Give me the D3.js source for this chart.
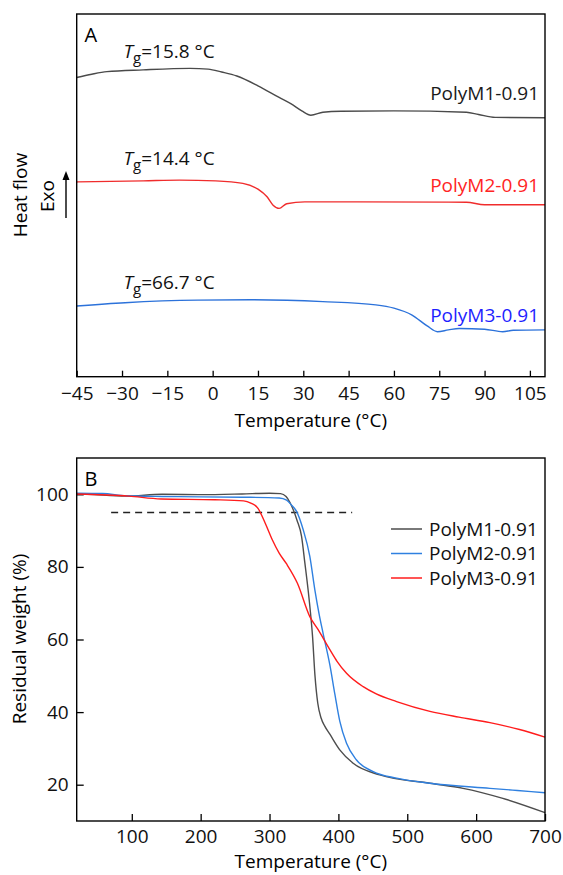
<!DOCTYPE html>
<html>
<head>
<meta charset="utf-8">
<script src="https://cdn.jsdelivr.net/npm/d3@7"></script>
<style>
  body { margin: 0; background: #fff; }
  svg { display: block; font-family: "Open Sans", "Noto Sans", sans-serif; }
  .frame { fill: none; stroke: #000; stroke-width: 1.4; }
  .axis path { display: none; }
  .axis line { stroke: #000; stroke-width: 1.3; }
  .axis text { font-size: 19px; fill: #111; font-family: "Open Sans", sans-serif; }
  .line { fill: none; stroke-width: 1.4; }
</style>
</head>
<body>
<svg width="563" height="875"></svg>
<script>
// ---- panel A : DSC (heat flow in arbitrary units, offset curves) ----
const dscTicks = [-45, -30, -15, 0, 15, 30, 45, 60, 75, 90, 105];

const dscM1 = [[-45, 82.5], [-40, 83.4], [-35, 84.1], [-23, 84.6], [-7.5, 85.0], [-1.5, 84.8], [3, 84.0],
  [8, 82.9], [15, 80.2], [22, 77.0], [26, 75.2], [29.5, 73.3], [32.5, 72.1], [36.5, 72.9], [42.5, 73.2],
  [60, 73.3], [84, 72.9], [88, 72.3], [93.5, 71.5], [110, 71.4]];

const dscM2 = [[-45, 53.7], [-23, 54.0], [-11, 54.2], [1, 54.0], [10, 53.3], [15, 51.7], [18, 49.6],
  [20, 47.3], [22, 46.4], [24.5, 47.7], [30.5, 48.2], [48, 48.2], [84, 48.1], [90, 47.4], [110, 47.4]];

const dscM3 = [[-45, 19.5], [-29, 20.4], [-5, 21.1], [12.7, 21.2], [36.5, 20.7], [54, 19.8], [60, 18.9],
  [66, 17.0], [71, 14.0], [74.4, 12.4], [78, 12.9], [81.6, 13.3], [90, 13.1], [96, 12.4], [99.5, 12.8], [110, 12.9]];

const dscLabels = [
  { tg: "15.8", name: "PolyM1-0.91", color: "#1a1a1a", tgY: 88.0, nameY: 76.3 },
  { tg: "14.4", name: "PolyM2-0.91", color: "#ff2424", tgY: 58.4, nameY: 51.0 },
  { tg: "66.7", name: "PolyM3-0.91", color: "#1e1eff", tgY: 24.1, nameY: 15.2 }
];

// ---- panel B : TGA ----
const tgaTicksX = [100, 200, 300, 400, 500, 600, 700];
const tgaTicksY = [20, 40, 60, 80, 100];

const tgaM1 = [[20, 100.1], [36, 100], [92, 99.5], [144, 100], [200, 99.9], [260, 100.1], [300, 100.3],
  [316, 100.2], [324, 99.4], [329.5, 97.8], [334.3, 95.8], [340, 92.8], [346.5, 88.4], [351.3, 81.1],
  [356, 73.7], [359.5, 67.3], [362.4, 61], [366, 50], [370, 42.5], [375, 38.3], [380, 36.2],
  [387.6, 33.9], [402, 29.6], [421.4, 25.9], [460, 22.7], [533, 20.4], [581, 19.0], [637.5, 16.3], [700, 12.3]];

const tgaM2 = [[20, 100.3], [57.5, 100.2], [92, 99.6], [144, 99.4], [200, 99.3], [260, 99.2], [314, 99],
  [324.8, 98.4], [332, 97], [339.2, 95.3], [348.8, 90.3], [358.5, 82.9], [365.8, 73.7], [372, 67],
  [378, 61.5], [387.6, 53], [394.8, 45], [402, 37.5], [411.8, 31.4], [426.3, 26.8], [450.5, 23.6],
  [484.5, 21.8], [533, 20.4], [620, 19.0], [660, 18.4], [700, 17.8]];

const tgaM3 = [[20, 100.1], [95.6, 99.5], [142.5, 98.7], [220.5, 98.5], [262.3, 98.2], [272.8, 97.6],
  [283, 96.2], [293.6, 92.1], [304, 87.5], [314, 83.8], [324.8, 80.8], [340.5, 75.5], [358.5, 66.3],
  [370.6, 62.7], [387.6, 57.2], [398, 54], [411.8, 50.7], [436, 47], [455, 45], [484.5, 42.9],
  [532.9, 40.2], [575, 38.6], [620, 37.1], [663, 35.2], [700, 33.1]];

const tgaSeries = [
  { name: "PolyM1-0.91", data: tgaM1, color: "#4d4d4d" },
  { name: "PolyM2-0.91", data: tgaM2, color: "#2f80e0" },
  { name: "PolyM3-0.91", data: tgaM3, color: "#ff1c1c" }
];
const t5 = [70, 420];   // span of 95 % guide line
const t5Level = 95;

const svg = d3.select("svg");
const left = 76.7, right = 545;

// ================= Panel A =================
const a = { top: 14, bottom: 376.7 };
const xA = d3.scaleLinear().domain([-45, 110]).range([left, right]);
const yA = d3.scaleLinear().domain([0, 100]).range([a.bottom, a.top]);

const gA = svg.append("g");

gA.append("g")
  .attr("class", "axis")
  .attr("transform", `translate(0,${a.bottom})`)
  .call(d3.axisBottom(xA).tickValues(dscTicks).tickSize(-6).tickPadding(10));

const lineA = d3.line().x(d => xA(d[0])).y(d => yA(d[1])).curve(d3.curveMonotoneX);
[[dscM1, "#4a4a4a"], [dscM2, "#f02c2c"], [dscM3, "#2c72da"]].forEach(([data, c]) => {
  gA.append("path").datum(data).attr("class", "line").attr("stroke", c).attr("d", lineA);
});

gA.append("rect").attr("class", "frame")
  .attr("x", left).attr("y", a.top).attr("width", right - left).attr("height", a.bottom - a.top);

dscLabels.forEach(l => {
  const t = gA.append("text").attr("x", xA(-29.5)).attr("y", yA(l.tgY))
    .attr("font-size", 19).attr("fill", "#111");
  t.append("tspan").attr("font-style", "italic").text("T");
  t.append("tspan").attr("font-size", 15).attr("dy", 5).text("g");
  t.append("tspan").attr("dy", -5).text("=" + l.tg + " °C");

  gA.append("text").attr("x", 539).attr("y", yA(l.nameY))
    .attr("text-anchor", "end").attr("font-size", 19).attr("fill", l.color).text(l.name);
});

gA.append("text").attr("x", 84.5).attr("y", 41.5).attr("font-size", 20).text("A");

gA.append("text").attr("x", (left + right) / 2).attr("y", 427)
  .attr("text-anchor", "middle").attr("font-size", 19).text("Temperature (°C)");

// y title: "Heat flow" + "Exo" + arrow
gA.append("text").attr("transform", "translate(27,195) rotate(-90)")
  .attr("text-anchor", "middle").attr("font-size", 19).text("Heat flow");
gA.append("text").attr("transform", "translate(53.5,196) rotate(-90)")
  .attr("text-anchor", "middle").attr("font-size", 19).text("Exo");
gA.append("line").attr("x1", 66).attr("x2", 66).attr("y1", 218).attr("y2", 178)
  .attr("stroke", "#000").attr("stroke-width", 1.4);
gA.append("path").attr("d", "M66,171 L62.5,180 L69.5,180 Z").attr("fill", "#000");

// ================= Panel B =================
const b = { top: 458, bottom: 821 };
const xB = d3.scaleLinear().domain([20, 700]).range([left, right]);
const yB = d3.scaleLinear().domain([10, 110]).range([b.bottom, b.top]);

const gB = svg.append("g");

gB.append("g")
  .attr("class", "axis")
  .attr("transform", `translate(0,${b.bottom})`)
  .call(d3.axisBottom(xB).tickValues(tgaTicksX).tickSize(-7).tickPadding(9));

gB.append("g")
  .attr("class", "axis")
  .attr("transform", `translate(${left},0)`)
  .call(d3.axisLeft(yB).tickValues(tgaTicksY).tickSize(-7).tickPadding(8));

gB.append("line")
  .attr("x1", xB(t5[0])).attr("x2", xB(t5[1]))
  .attr("y1", yB(t5Level)).attr("y2", yB(t5Level))
  .attr("stroke", "#222").attr("stroke-width", 1.4).attr("stroke-dasharray", "7,5");

const lineB = d3.line().x(d => xB(d[0])).y(d => yB(d[1])).curve(d3.curveMonotoneX);
tgaSeries.forEach(s => {
  gB.append("path").datum(s.data).attr("class", "line").attr("stroke", s.color).attr("d", lineB);
});

gB.append("rect").attr("class", "frame")
  .attr("x", left).attr("y", b.top).attr("width", right - left).attr("height", b.bottom - b.top);

// legend
const legend = gB.append("g").attr("transform", "translate(391,529)");
tgaSeries.forEach((s, i) => {
  legend.append("line").attr("x1", 0).attr("x2", 31).attr("y1", i * 24.5).attr("y2", i * 24.5)
    .attr("stroke", s.color).attr("stroke-width", 1.5);
  legend.append("text").attr("x", 38).attr("y", i * 24.5).attr("dy", "0.35em")
    .attr("font-size", 19).attr("fill", "#111").text(s.name);
});

gB.append("text").attr("x", 84.5).attr("y", 486).attr("font-size", 20).text("B");

gB.append("text").attr("x", (left + right) / 2).attr("y", 868)
  .attr("text-anchor", "middle").attr("font-size", 19).text("Temperature (°C)");

gB.append("text").attr("transform", "translate(26,639) rotate(-90)")
  .attr("text-anchor", "middle").attr("font-size", 19).text("Residual weight (%)");
</script>
</body>
</html>
